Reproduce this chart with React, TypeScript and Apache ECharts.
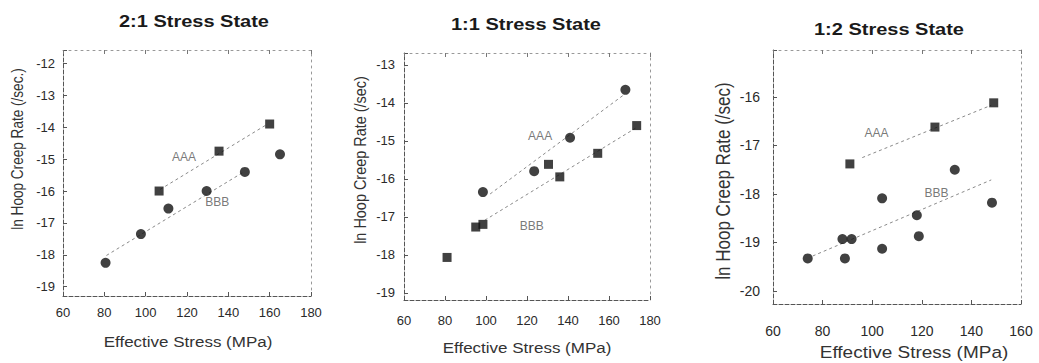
import React, { useEffect, useRef } from "react";
import * as echarts from "echarts";

// Panel titles and axis names
const titles = ["2:1 Stress State", "1:1 Stress State", "1:2 Stress State"];
const yNames = ["ln Hoop Creep Rate (/sec.)", "ln Hoop Creep Rate (/sec)", "ln Hoop Creep Rate (/sec)"];
const xName = "Effective Stress (MPa)";

// Axis ranges per panel
const xMin = [60, 60, 60];
const xMax = [180, 180, 160];
const yMin = [-19.29, -19.19, -20.27];
const yMax = [-11.58, -12.69, -15.03];

// 2:1 stress state
const aaa21 = [[106.5, -16.0], [135.5, -14.75], [160, -13.9]];
const bbb21 = [[80.6, -18.25], [97.7, -17.35], [111, -16.55], [129.5, -16.0], [148, -15.4], [165, -14.85]];
const aaaFit21 = [[107, -15.95], [158, -13.94]];
const bbbFit21 = [[81, -18.02], [147, -15.42]];
const aaaLabel21 = [118.5, -14.93];
const bbbLabel21 = [134.6, -16.35];

// 1:1 stress state
const aaa11 = [[98.5, -16.35], [123.5, -15.8], [141, -14.92], [168, -13.66]];
const bbb11 = [[81, -18.07], [95, -17.27], [98.5, -17.2], [130.5, -15.62], [136, -15.95], [154.5, -15.33], [173.5, -14.6]];
const aaaFit11 = [[102, -16.4], [167, -13.8]];
const bbbFit11 = [[99.4, -17.09], [172.9, -14.67]];
const aaaLabel11 = [126.4, -14.87];
const bbbLabel11 = [122.3, -17.25];

// 1:2 stress state
const aaa12 = [[91, -17.38], [125.3, -16.62], [149, -16.12]];
const bbb12 = [[74, -19.33], [88, -18.93], [91.7, -18.93], [89, -19.33], [104, -18.09], [104, -19.13], [118, -18.44], [118.8, -18.87], [133.3, -17.5], [148.3, -18.18]];
const aaaFit12 = [[96, -17.25], [148, -16.17]];
const bbbFit12 = [[76, -19.28], [148, -17.71]];
const aaaLabel12 = [101.7, -16.74];
const bbbLabel12 = [125.9, -17.98];

const FONT = '"Liberation Sans", Arial, sans-serif';
// text in this figure is slightly compressed vertically
const SQUASH = 0.85;

const panels = [
  {
    grid: { left: 63, top: 50, width: 248, height: 246 },
    aaa: aaa21, bbb: bbb21, aaaFit: aaaFit21, bbbFit: bbbFit21,
    aaaLabel: aaaLabel21, bbbLabel: bbbLabel21,
    aaaSymbol: "rect", bbbSymbol: "circle",
    tickFont: 13, xMargin: 10, yMargin: 8,
    title: { x: 194, y: 21, size: 20 },
    yNameAt: { x: 18, y: 149, size: 16 },
    xNameAt: { x: 188, y: 342, size: 17 },
  },
  {
    grid: { left: 404, top: 53, width: 246, height: 247 },
    aaa: aaa11, bbb: bbb11, aaaFit: aaaFit11, bbbFit: bbbFit11,
    aaaLabel: aaaLabel11, bbbLabel: bbbLabel11,
    aaaSymbol: "circle", bbbSymbol: "rect",
    tickFont: 13, xMargin: 14, yMargin: 9,
    title: { x: 526, y: 24, size: 20 },
    yNameAt: { x: 360, y: 160, size: 17 },
    xNameAt: { x: 527, y: 348, size: 17 },
  },
  {
    grid: { left: 773, top: 50, width: 248, height: 254 },
    aaa: aaa12, bbb: bbb12, aaaFit: aaaFit12, bbbFit: bbbFit12,
    aaaLabel: aaaLabel12, bbbLabel: bbbLabel12,
    aaaSymbol: "rect", bbbSymbol: "circle",
    tickFont: 14, xMargin: 20, yMargin: 13,
    title: { x: 889, y: 29, size: 20 },
    yNameAt: { x: 723, y: 181, size: 20 },
    xNameAt: { x: 914, y: 353, size: 19 },
  },
];

const frameLine = { color: "#555", width: 1, type: [4, 2] };
const frameLineLight = { color: "#999", width: 1, type: [2, 4] };

function buildOption() {
  const grid = panels.map((p) => ({ ...p.grid, show: false }));

  const xAxis: any[] = [];
  const yAxis: any[] = [];
  panels.forEach((p, i) => {
    xAxis.push({
      type: "value", gridIndex: i, min: xMin[i], max: xMax[i],
      splitNumber: 6, minInterval: 20, maxInterval: 20,
      axisLine: { show: true, lineStyle: frameLine },
      axisTick: { show: true, inside: true, length: 4, lineStyle: { color: "#555" } },
      axisLabel: { color: "#2a2a2a", fontSize: p.tickFont, fontFamily: FONT, margin: p.xMargin },
      splitLine: { show: false },
    });
    yAxis.push({
      type: "value", gridIndex: i, min: yMin[i], max: yMax[i],
      splitNumber: 8, minInterval: 1, maxInterval: 1,
      axisLine: { show: true, lineStyle: frameLine },
      axisTick: { show: true, inside: true, length: 4, lineStyle: { color: "#555" } },
      axisLabel: {
        color: "#2a2a2a", fontSize: p.tickFont, fontFamily: FONT, margin: p.yMargin,
        formatter: (v: number) => (Number.isInteger(v) ? String(v) : ""),
      },
      splitLine: { show: false },
    });
  });
  // top and right edges of each frame
  panels.forEach((p, i) => {
    xAxis.push({
      type: "value", gridIndex: i, min: xMin[i], max: xMax[i], position: "top",
      splitNumber: 6, minInterval: 20, maxInterval: 20,
      axisLine: { show: true, lineStyle: frameLineLight },
      axisTick: { show: true, inside: true, length: 4, lineStyle: { color: "#777" } },
      axisLabel: { show: false }, splitLine: { show: false },
    });
    yAxis.push({
      type: "value", gridIndex: i, min: yMin[i], max: yMax[i], position: "right",
      splitNumber: 8, minInterval: 1, maxInterval: 1,
      axisLine: { show: true, lineStyle: frameLineLight },
      axisTick: { show: false },
      axisLabel: { show: false }, splitLine: { show: false },
    });
  });

  const series: any[] = [];
  panels.forEach((p, i) => {
    const base = { xAxisIndex: i, yAxisIndex: i };
    const fitStyle = { color: "#8a8a8a", width: 1, type: [3, 3] };
    series.push({
      ...base, type: "line", data: p.aaaFit, symbol: "none",
      lineStyle: fitStyle, z: 1,
    });
    series.push({
      ...base, type: "line", data: p.bbbFit, symbol: "none",
      lineStyle: fitStyle, z: 1,
    });
    series.push({
      ...base, type: "scatter", data: p.aaa, symbol: p.aaaSymbol,
      symbolSize: p.aaaSymbol === "rect" ? 9 : 10,
      itemStyle: { color: "#111" }, z: 3,
    });
    series.push({
      ...base, type: "scatter", data: p.bbb, symbol: p.bbbSymbol,
      symbolSize: p.bbbSymbol === "rect" ? 9 : 10,
      itemStyle: { color: "#111" }, z: 3,
    });
    series.push({
      ...base, type: "scatter", symbolSize: 0, z: 4,
      data: [
        { value: p.aaaLabel, name: "AAA" },
        { value: p.bbbLabel, name: "BBB" },
      ],
      label: {
        show: true, position: "inside", formatter: "{b}",
        color: "#555", fontSize: 12, fontFamily: FONT,
      },
    });
  });

  const graphic: any[] = [];
  panels.forEach((p, i) => {
    graphic.push({
      type: "text", x: p.title.x, y: p.title.y, scaleY: SQUASH,
      style: {
        text: titles[i], font: `bold ${p.title.size}px ${FONT}`, fill: "#1a1a1a",
        align: "center", verticalAlign: "middle",
      },
    });
    graphic.push({
      type: "text", x: p.yNameAt.x, y: p.yNameAt.y, rotation: Math.PI / 2, scaleX: SQUASH,
      style: {
        text: yNames[i], font: `${p.yNameAt.size}px ${FONT}`, fill: "#333",
        align: "center", verticalAlign: "middle",
      },
    });
    graphic.push({
      type: "text", x: p.xNameAt.x, y: p.xNameAt.y, scaleY: SQUASH,
      style: {
        text: xName, font: `${p.xNameAt.size}px ${FONT}`, fill: "#333",
        align: "center", verticalAlign: "middle",
      },
    });
  });

  return {
    animation: false,
    backgroundColor: "#ffffff",
    grid, xAxis, yAxis, series, graphic,
  };
}

export default function App() {
  const ref = useRef<HTMLDivElement>(null);
  useEffect(() => {
    if (!ref.current) return;
    const chart = echarts.init(ref.current, undefined, { renderer: "svg" });
    chart.setOption(buildOption() as any);
    return () => chart.dispose();
  }, []);
  return (
    <div
      ref={ref}
      style={{ position: "fixed", left: 0, top: 0, width: 1039, height: 363, background: "#fff" }}
    />
  );
}
